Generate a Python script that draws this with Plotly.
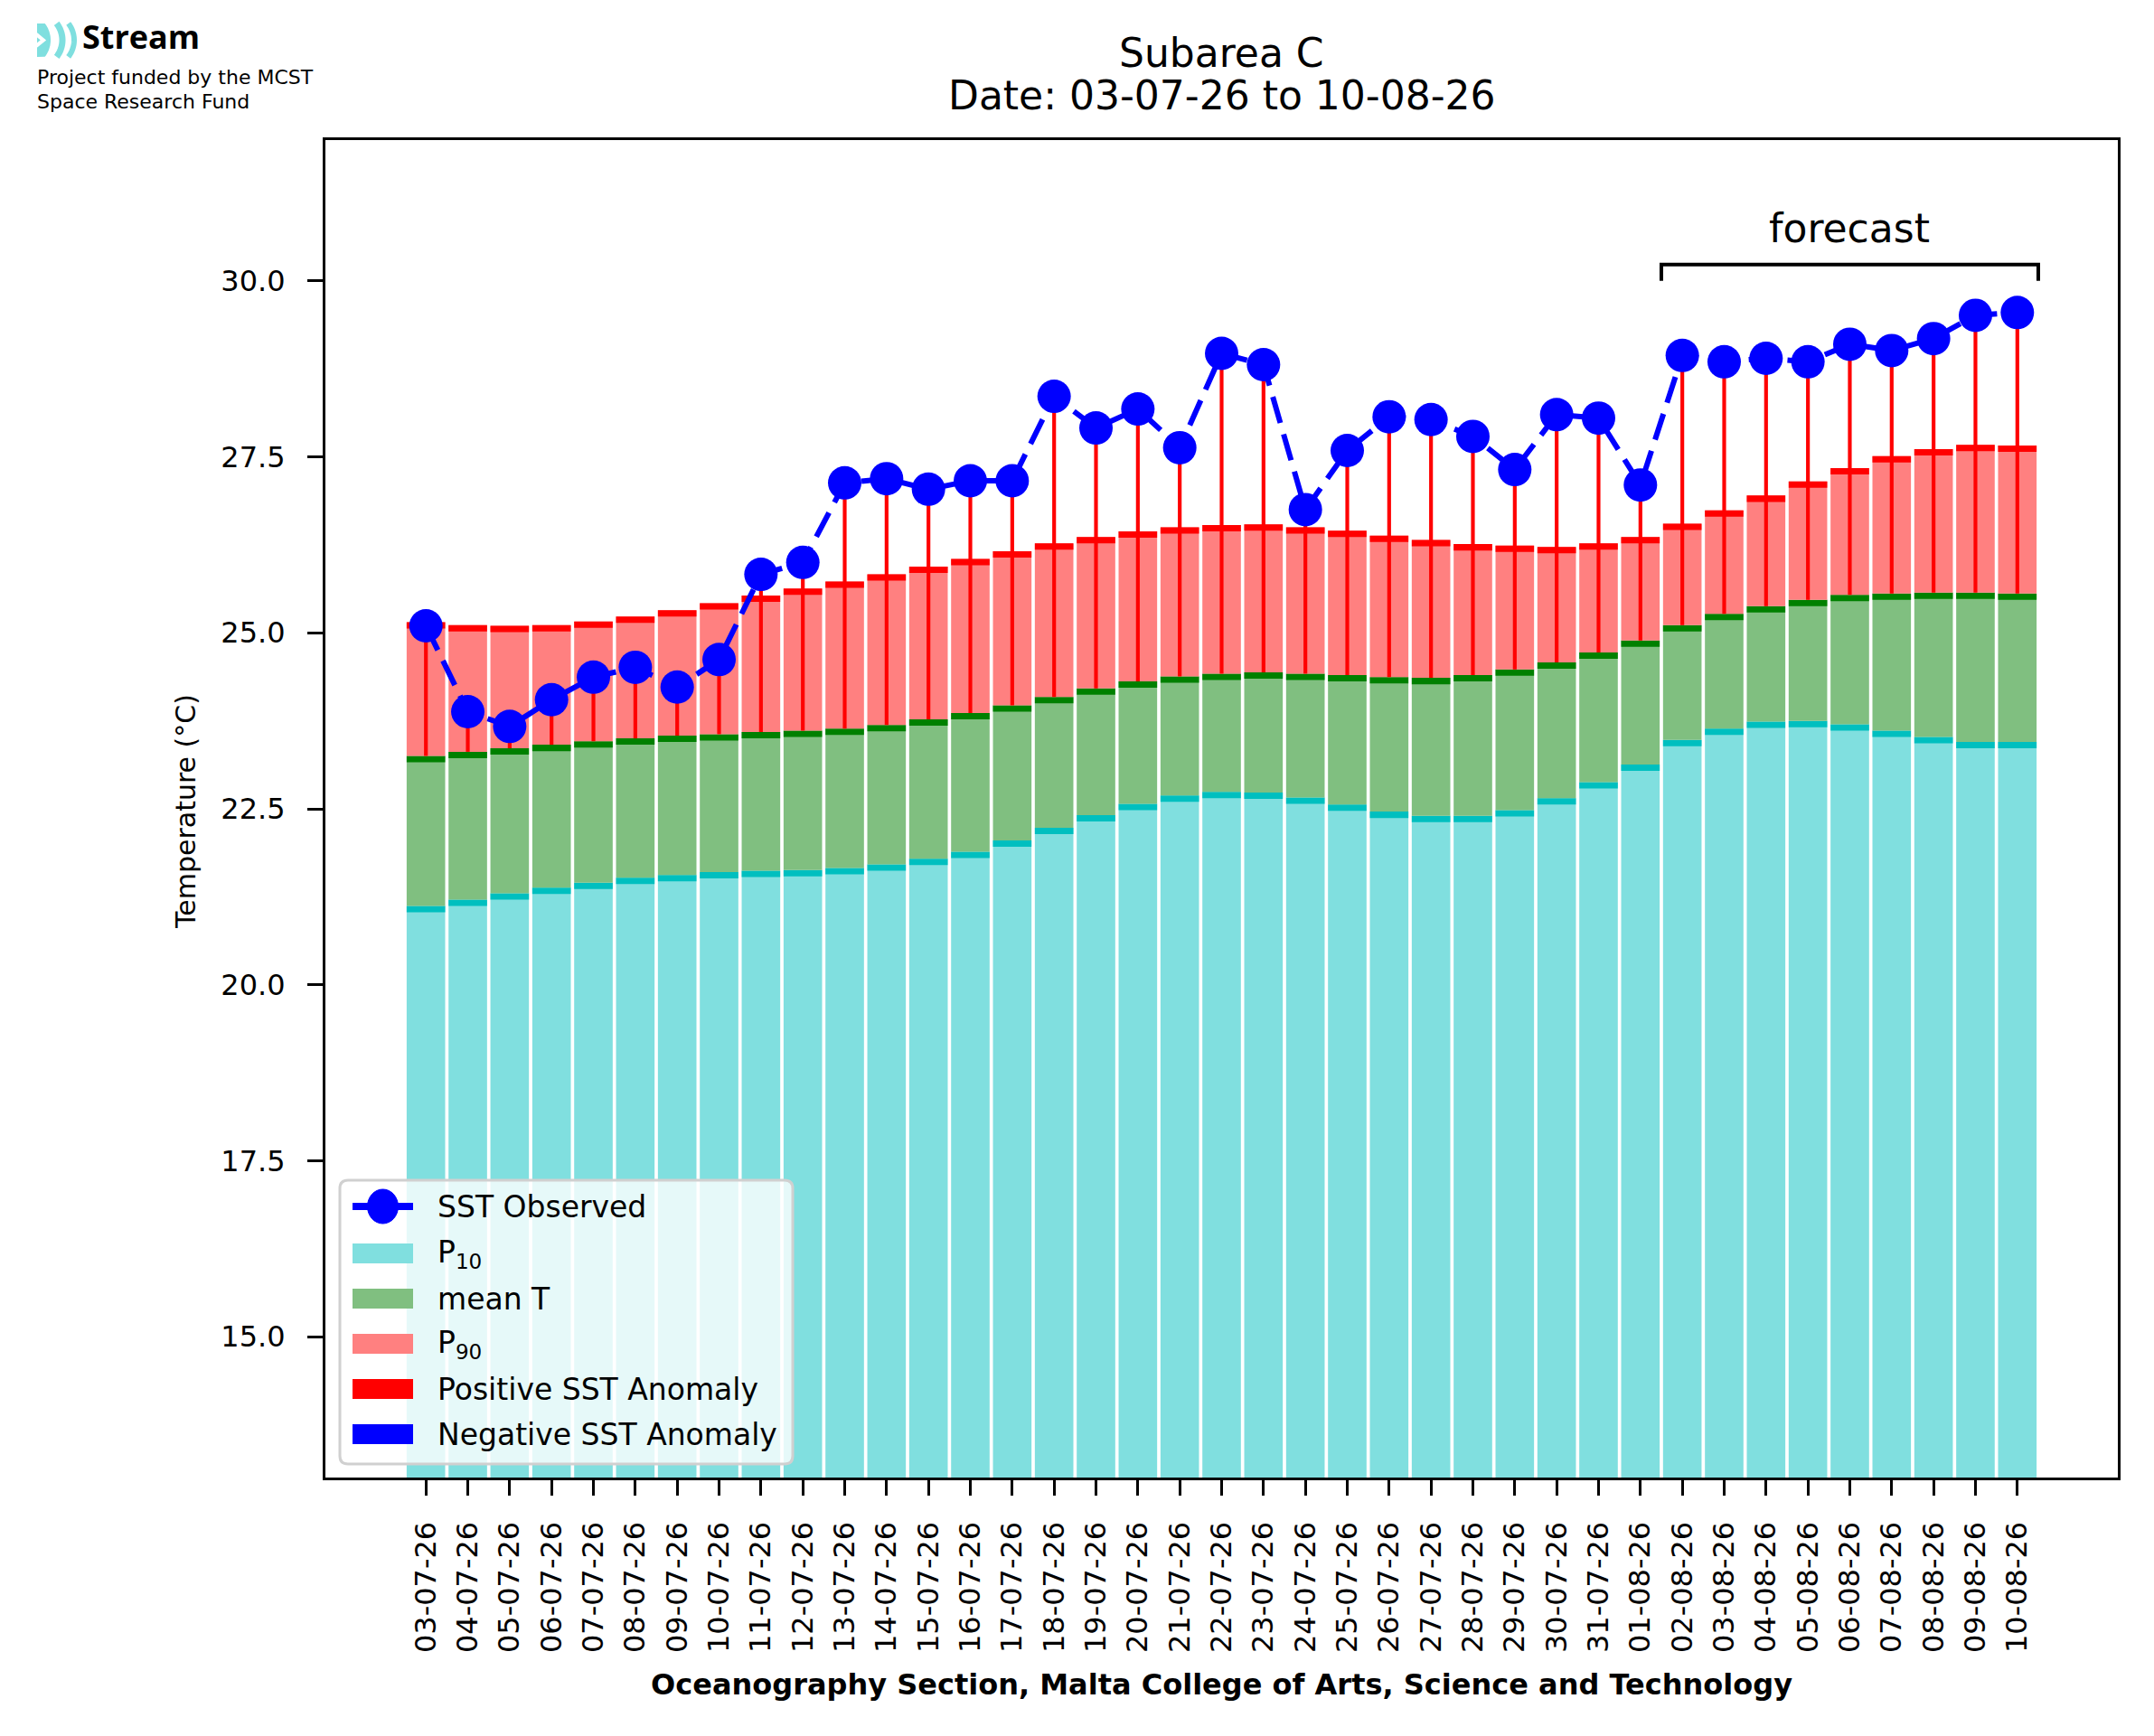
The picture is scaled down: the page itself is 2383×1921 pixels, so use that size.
import numpy as np
import plotly.graph_objects as go

dates = ["03-07-26", "04-07-26", "05-07-26", "06-07-26", "07-07-26", "08-07-26",
         "09-07-26", "10-07-26", "11-07-26", "12-07-26", "13-07-26", "14-07-26",
         "15-07-26", "16-07-26", "17-07-26", "18-07-26", "19-07-26", "20-07-26",
         "21-07-26", "22-07-26", "23-07-26", "24-07-26", "25-07-26", "26-07-26",
         "27-07-26", "28-07-26", "29-07-26", "30-07-26", "31-07-26", "01-08-26",
         "02-08-26", "03-08-26", "04-08-26", "05-08-26", "06-08-26", "07-08-26",
         "08-08-26", "09-08-26", "10-08-26"]

p10 = [21.12, 21.21, 21.30, 21.38, 21.45, 21.52, 21.56, 21.60, 21.62, 21.63,
       21.66, 21.71, 21.79, 21.89, 22.05, 22.23, 22.41, 22.57, 22.69, 22.74,
       22.73, 22.66, 22.56, 22.46, 22.40, 22.40, 22.48, 22.65, 22.88, 23.13,
       23.48, 23.64, 23.74, 23.75, 23.70, 23.61, 23.52, 23.45, 23.45]

mean_t = [23.25, 23.31, 23.36, 23.41, 23.46, 23.50, 23.54, 23.56, 23.59, 23.61,
          23.64, 23.69, 23.77, 23.86, 23.97, 24.09, 24.21, 24.31, 24.38, 24.42,
          24.44, 24.42, 24.40, 24.37, 24.36, 24.40, 24.48, 24.58, 24.72, 24.89,
          25.11, 25.27, 25.38, 25.47, 25.54, 25.56, 25.57, 25.57, 25.56]

p90 = [25.15, 25.11, 25.10, 25.11, 25.16, 25.23, 25.32, 25.42, 25.53, 25.63,
       25.73, 25.83, 25.94, 26.05, 26.16, 26.27, 26.36, 26.44, 26.50, 26.53,
       26.54, 26.50, 26.45, 26.38, 26.32, 26.26, 26.24, 26.22, 26.27, 26.36,
       26.55, 26.74, 26.95, 27.15, 27.34, 27.51, 27.61, 27.67, 27.66]

sst = [25.10, 23.88, 23.67, 24.05, 24.37, 24.51, 24.23, 24.62, 25.83, 26.00,
       27.13, 27.19, 27.04, 27.16, 27.16, 28.36, 27.91, 28.18, 27.63, 28.97,
       28.81, 26.75, 27.59, 28.07, 28.03, 27.79, 27.32, 28.10, 28.05, 27.10,
       28.94, 28.85, 28.90, 28.85, 29.10, 29.01, 29.18, 29.51, 29.55]

forecast_start = "02-08-26"

# figure geometry (pixels)
W, H = 2383, 1921
L, R, T, B = 360, 40, 155, 286
PW, PH = W - L - R, H - T - B
FONT = "DejaVu Sans"


def px(X):
    return (X - L) / PW


def py(Y):
    return (H - B - Y) / PH


idx = np.arange(len(dates))
p10_a, mean_a, p90_a, sst_a = map(np.array, (p10, mean_t, p90, sst))
anom = sst_a - mean_a
pos = [a if a >= 0 else None for a in anom]
neg = [a if a < 0 else None for a in anom]

bw = 0.92
band = 0.09

fig = go.Figure()


def bar(y, base, color, width=bw):
    fig.add_trace(go.Bar(x=idx, y=y, base=base, width=width, marker_color=color,
                         marker_line_width=0, showlegend=False, hoverinfo="skip"))


bar(p10_a, 0, "#80dfdf")
bar(np.full(len(idx), band), p10_a - band, "#00bfbf")
bar(mean_a - p10_a, p10_a, "#80bf80")
bar(np.full(len(idx), band), mean_a - band, "#008000")
bar(p90_a - mean_a, mean_a, "#ff8080")
bar(np.full(len(idx), band), p90_a - band, "#ff0000")
bar(pos, mean_a, "#ff0000", width=0.09)
bar(neg, mean_a, "#0000ff", width=0.09)

fig.add_trace(go.Scatter(x=idx, y=sst, mode="lines+markers", name="SST Observed",
                         line=dict(color="#0000ff", width=6, dash="30px,13px"),
                         marker=dict(size=37, color="#0000ff"), showlegend=False))

shapes = []
annotations = []


def note(x, y, text, size, xref="paper", yref="paper", xanchor="center", angle=0, family=FONT):
    annotations.append(dict(x=x, y=y, xref=xref, yref=yref, text=text, showarrow=False,
                            xanchor=xanchor, yanchor="middle", textangle=angle,
                            font=dict(size=size, color="black", family=family)))


# forecast bracket
f0 = dates.index(forecast_start) - 0.5
f1 = len(dates) - 0.5
shapes.append(dict(type="path", xref="x", yref="y",
                   path=f"M {f0},30.0 L {f0},30.23 L {f1},30.23 L {f1},30.0",
                   line=dict(color="black", width=4)))
note((f0 + f1) / 2, 30.75, "forecast", 44, xref="x", yref="y")

# titles
note(0.5, py(58), "Subarea C", 44)
note(0.5, py(106), f"Date: {dates[0]} to {dates[-1]}", 44)
note(px(205), py(898), "Temperature (°C)", 30, angle=-90)
note(0.5, py(1864), "<b>Oceanography Section, Malta College of Arts, Science and Technology</b>", 32)

# logo
note(px(89), py(40), "<b>Stream</b>", 36, xanchor="left", family="Open Sans")
note(px(39), py(85.5), "Project funded by the MCST", 22, xanchor="left")
note(px(39), py(112), "Space Research Fund", 22, xanchor="left")


def pts_path(pts, close=False):
    s = "M " + " L ".join(f"{px(x):.5f},{py(y):.5f}" for x, y in pts)
    return s + (" Z" if close else "")


icon = "#7fdfdf"
icy, rad = 44.4, 30
ang = np.radians(np.linspace(-38, 38, 24))


def arc(xr):
    return [(xr - rad + rad * np.cos(a), icy + rad * np.sin(a)) for a in ang]


shapes.append(dict(type="path", xref="paper", yref="paper",
                   path=pts_path([(41, icy + 18.5)] + arc(56)[::-1] + [(41, icy - 18.5)], close=True),
                   fillcolor=icon, line=dict(width=0)))
shapes.append(dict(type="path", xref="paper", yref="paper",
                   path=pts_path([(40, icy - 6.5), (48, icy), (40, icy + 6.5)]),
                   line=dict(color="white", width=4)))
shapes.append(dict(type="path", xref="paper", yref="paper", path=pts_path(arc(69)),
                   line=dict(color=icon, width=7)))
shapes.append(dict(type="path", xref="paper", yref="paper", path=pts_path(arc(82)),
                   line=dict(color=icon, width=6)))

# legend (drawn by hand to match the box layout)
bx0, bx1, by0, by1, rr = 376, 877, 1306, 1620, 9
rect = (f"M {px(bx0 + rr)},{py(by0)} L {px(bx1 - rr)},{py(by0)} "
        f"Q {px(bx1)},{py(by0)} {px(bx1)},{py(by0 + rr)} L {px(bx1)},{py(by1 - rr)} "
        f"Q {px(bx1)},{py(by1)} {px(bx1 - rr)},{py(by1)} L {px(bx0 + rr)},{py(by1)} "
        f"Q {px(bx0)},{py(by1)} {px(bx0)},{py(by1 - rr)} L {px(bx0)},{py(by0 + rr)} "
        f"Q {px(bx0)},{py(by0)} {px(bx0 + rr)},{py(by0)} Z")
shapes.append(dict(type="path", xref="paper", yref="paper", path=rect,
                   fillcolor="rgba(255,255,255,0.8)", line=dict(color="#d0d0d0", width=3)))

leg_labels = ["SST Observed", "P<sub>10</sub>", "mean T", "P<sub>90</sub>",
              "Positive SST Anomaly", "Negative SST Anomaly"]
leg_colors = ["#0000ff", "#80dfdf", "#80bf80", "#ff8080", "#ff0000", "#0000ff"]
rows = [1335, 1387, 1437, 1487, 1537, 1587]
sx0, sx1 = 390, 457
for i, (lab, col, ry) in enumerate(zip(leg_labels, leg_colors, rows)):
    if i == 0:
        shapes.append(dict(type="line", xref="paper", yref="paper",
                           x0=px(sx0), x1=px(sx1), y0=py(ry), y1=py(ry),
                           line=dict(color=col, width=8)))
        shapes.append(dict(type="circle", xref="paper", yref="paper",
                           x0=px(423.5 - 17), x1=px(423.5 + 17), y0=py(ry + 19), y1=py(ry - 19),
                           fillcolor=col, line=dict(color=col, width=1)))
    else:
        shapes.append(dict(type="rect", xref="paper", yref="paper",
                           x0=px(sx0), x1=px(sx1), y0=py(ry + 11), y1=py(ry - 11),
                           fillcolor=col, line=dict(width=0)))
    note(px(482), py(ry), lab, 33, xanchor="left")

axis_common = dict(showline=True, mirror=True, linecolor="black", linewidth=3,
                   ticks="outside", ticklen=17, tickwidth=3, tickcolor="black",
                   showgrid=False, zeroline=False,
                   tickfont=dict(size=32, color="black", family=FONT))

fig.update_layout(
    width=W, height=H,
    margin=dict(l=L, r=R, t=T, b=B),
    paper_bgcolor="white", plot_bgcolor="white",
    barmode="overlay",
    showlegend=False,
    font=dict(family=FONT, color="black"),
    xaxis=dict(range=[-2.4, 40.4], tickvals=idx, ticktext=dates, tickangle=-90,
               ticklabelstandoff=16, **axis_common),
    yaxis=dict(range=[13, 32], tickvals=[15, 17.5, 20, 22.5, 25, 27.5, 30],
               tickformat=".1f", ticklabelstandoff=18, **axis_common),
    shapes=shapes,
    annotations=annotations,
)

fig.write_html("out.html", config={"displayModeBar": False},
               post_script="document.body.style.margin='0px';")
